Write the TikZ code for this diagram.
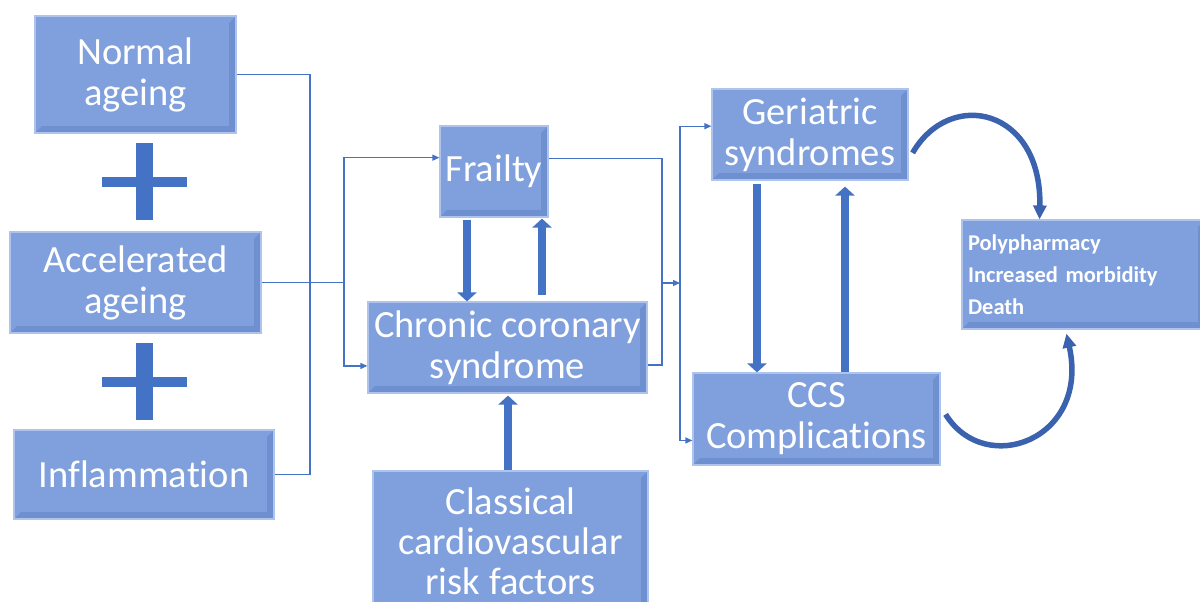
\documentclass[tikz,border=0pt]{standalone}
\usepackage{fontspec}
\setmainfont{Carlito}[Ligatures=NoCommon]
\usetikzlibrary{arrows.meta, positioning, calc}
\definecolor{boxfill}{HTML}{7FA0DC}
\definecolor{boxedge}{HTML}{AFC4EC}
\definecolor{boxdark}{HTML}{6E8FD0}
\definecolor{cline}{HTML}{4472C4}
\definecolor{ccurve}{HTML}{3A62AE}
\tikzset{
  every picture/.style={line width=1.2pt},
  box/.style={fill=boxfill, draw=boxedge, line width=1.2pt, align=center, inner sep=0pt,
    text=white, font=\fontsize{38.5}{41}\selectfont,
    path picture={
      \fill[boxdark] (path picture bounding box.south west) -- (path picture bounding box.south east)
        -- (path picture bounding box.north east) -- ([shift={(-7pt,-7pt)}]path picture bounding box.north east)
        -- ([shift={(-7pt,7pt)}]path picture bounding box.south east) -- ([shift={(7pt,7pt)}]path picture bounding box.south west) -- cycle;
      \fill[boxfill] ([shift={(7pt,7pt)}]path picture bounding box.south west) rectangle ([shift={(-7pt,-7pt)}]path picture bounding box.north east);
    }},
  link/.style={draw=cline, line width=1.3pt},
  linkarrow/.style={link, -{Triangle[length=7pt,width=6pt]}},
  bigarrow/.style={draw=cline, line width=8.5pt, -{Triangle[length=9pt,width=19pt]}},
  curvearrow/.style={draw=ccurve, line width=5.5pt, -{Triangle[length=14pt,width=13pt]}},
  plussign/.style={fill=cline},
}

\begin{document}
\begin{tikzpicture}[x=1pt, y=-1pt]
  \useasboundingbox (0,0) rectangle (1200,602);

  % left column
  \node[box, minimum width=201pt, minimum height=117pt] (normal) at (135.5,74.5) {Normal\\ageing};
  \node[box, minimum width=251pt, minimum height=101pt] (accel) at (135.5,282.5) {Accelerated\\ageing};
  \node[box, minimum width=260pt, minimum height=89pt] (inflam) at (144,474.5) {Inflammation};
  \fill[plussign] (102,177) rectangle (187,187);
  \fill[plussign] (136,143) rectangle (153,220);
  \fill[plussign] (102,377) rectangle (187,387);
  \fill[plussign] (136,343) rectangle (153,420);

  % middle column
  \node[box, minimum width=108pt, minimum height=91pt] (frailty) at (494,171.5) {Frailty};
  \node[box, minimum width=279pt, minimum height=91pt] (ccs) at (507.5,347.5) {Chronic coronary\\syndrome};
  \node[box, minimum width=275pt, minimum height=140pt, font=\fontsize{38.5}{40}\selectfont] (riskf) at (510.5,541) {Classical\\cardiovascular\\risk factors};

  % right column
  \node[box, minimum width=196pt, minimum height=91pt] (geri) at (810,134.5) {Geriatric\\syndromes};
  \node[box, minimum width=247pt, minimum height=92pt] (compl) at (816.5,419) {CCS\\Complications};
  \node[box, minimum width=243pt, minimum height=109pt, text width=231pt, align=left,
        font=\bfseries\fontsize{22.5}{32}\selectfont] (outcome) at (1083.5,274.5)
        {Polypharmacy\\Increased morbidity\\Death};

  % junctions
  \coordinate (jl) at (310,75);
  \coordinate (jm) at (344,280);
  \coordinate (jr) at (662,283);
  \coordinate (jg) at (680,283);

  \draw[link] (normal.east) -| (jl) |- (inflam.east);
  \draw[link] (accel.east) -- (accel.east -| jm);
  \draw[linkarrow] (jm) |- ($(frailty.north west)!0.35!(frailty.south west)$);
  \draw[linkarrow] (jm) |- ($(ccs.north west)!0.70!(ccs.south west)$);

  \draw[link] ($(frailty.north east)!0.36!(frailty.south east)$) -| (jr);
  \draw[link] ($(ccs.north east)!0.69!(ccs.south east)$) -| (jr);
  \draw[linkarrow] (jr) -- (jg);
  \draw[linkarrow] (jg) |- ($(geri.north west)!0.41!(geri.south west)$);
  \draw[linkarrow] (jg) |- ($(compl.north west)!0.73!(compl.south west)$);

  % thick arrows
  \draw[bigarrow] ([xshift=-27pt,yshift=-2pt]frailty.south) -- ([xshift=-27pt]frailty.south |- ccs.north);
  \draw[bigarrow] ([xshift=48pt,yshift=6pt]frailty.south |- ccs.north) -- ([xshift=48pt,yshift=-1pt]frailty.south);
  \draw[bigarrow] ([xshift=-2.5pt]riskf.north) -- ([xshift=-2.5pt,yshift=-2pt]riskf.north |- ccs.south);
  \draw[bigarrow] ([xshift=-53pt,yshift=-3pt]geri.south) -- ([xshift=-53pt]geri.south |- compl.north);
  \draw[bigarrow] ([xshift=35pt]geri.south |- compl.north) -- ([xshift=35pt,yshift=-6pt]geri.south);

  % curved arrows
  \draw[curvearrow] ([xshift=4pt]$(geri.north east)!0.7!(geri.south east)$)
    .. controls (950,88) and (1042,108) .. ($(outcome.north west)!0.32!(outcome.north east)$);
  \draw[curvearrow] ([xshift=5pt]$(compl.north east)!0.45!(compl.south east)$)
    .. controls (985,478) and (1090,440) .. ([yshift=-4pt]$(outcome.south west)!0.43!(outcome.south east)$);
\end{tikzpicture}
\end{document}
